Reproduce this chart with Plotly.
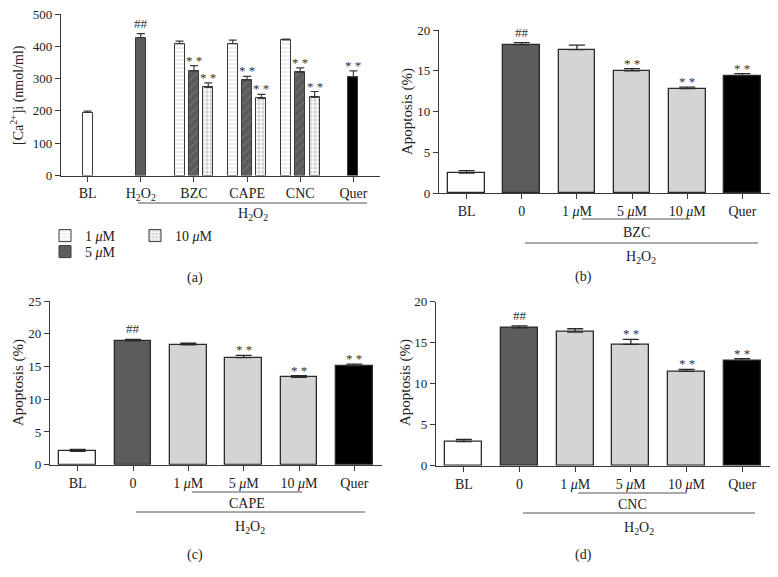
import plotly.graph_objects as go

W, H = 778, 577

# ---------------- data ----------------
# Panel (a): [Ca2+]i
a_cats = ['BL', 'H2O2', 'BZC', 'CAPE', 'CNC', 'Quer']
a_ticktext = ['BL', 'H<sub>2</sub>O<sub>2</sub>', 'BZC', 'CAPE', 'CNC', 'Quer']
a_groups = ['BZC', 'CAPE', 'CNC']
a_bl = [195]
a_bl_err = [4]
a_h2o2 = [427]
a_h2o2_err = [12]
a_1uM = [408, 408, 420]
a_1uM_err = [8, 11, 2]
a_5uM = [324, 295, 319]
a_5uM_err = [16, 12, 14]
a_10uM = [273, 239, 242]
a_10uM_err = [14, 12, 18]
a_quer = [305]
a_quer_err = [19]

# Panels (b)-(d): apoptosis
ap_cats = ['BL', '0', '1 uM', '5 uM', '10 uM', 'Quer']
ap_ticktext = ['BL', '0', '1 <i>μ</i>M', '5 <i>μ</i>M', '10 <i>μ</i>M', 'Quer']
ap_sig = ['', '##', '', '**', '**', '**']

b_vals = [2.45, 18.2, 17.6, 15.0, 12.8, 14.4]
b_err = [0.3, 0.25, 0.55, 0.25, 0.2, 0.25]
c_vals = [2.05, 18.9, 18.3, 16.35, 13.35, 15.1]
c_err = [0.3, 0.25, 0.25, 0.35, 0.25, 0.25]
d_vals = [2.95, 16.8, 16.3, 14.8, 11.5, 12.85]
d_err = [0.25, 0.25, 0.4, 0.6, 0.25, 0.2]

# ---------------- style ----------------
FONT = 'Liberation Serif'
TXT = '#222222'
AX = '#3a3a3a'
ap_colors = ['white', '#5c5c5c', '#d4d4d4', '#d4d4d4', '#d4d4d4', 'black']
PAGE_OFF = 8  # default body margin of the html page


def px(x):
    return (x - PAGE_OFF) / W


def py(y):
    return 1 - (y - PAGE_OFF) / H


fig = go.Figure()

# ---------- panel (a) ----------
bw_a = 0.19
step_a = 0.27


def err(arr):
    return dict(type='data', array=arr, arrayminus=[0] * len(arr), symmetric=False,
                color=AX, thickness=1.2, width=4)


line_a = dict(color=AX, width=1)
fig.add_trace(go.Bar(x=['BL'], y=a_bl, width=bw_a, offset=-bw_a / 2,
                     marker=dict(color='white', line=line_a), error_y=err(a_bl_err),
                     showlegend=False, xaxis='x', yaxis='y'))
fig.add_trace(go.Bar(x=['H2O2'], y=a_h2o2, width=bw_a, offset=-bw_a / 2,
                     marker=dict(color='#5c5c5c', line=line_a), error_y=err(a_h2o2_err),
                     showlegend=False, xaxis='x', yaxis='y'))
fig.add_trace(go.Bar(x=a_groups, y=a_1uM, width=bw_a, offset=-step_a - bw_a / 2,
                     name='1 <i>μ</i>M', legend='legend',
                     marker=dict(color='white', line=line_a,
                                 pattern=dict(shape='-', fgcolor='#c4c4c4', bgcolor='white',
                                              size=4, solidity=0.3, fillmode='overlay')),
                     error_y=err(a_1uM_err), xaxis='x', yaxis='y'))
fig.add_trace(go.Bar(x=a_groups, y=a_5uM, width=bw_a, offset=-bw_a / 2,
                     name='5 <i>μ</i>M', legend='legend3',
                     marker=dict(color='#5a5a5a', line=line_a,
                                 pattern=dict(shape='/', fgcolor='#8c8c8c', bgcolor='#5a5a5a',
                                              size=6, solidity=0.2, fillmode='overlay')),
                     error_y=err(a_5uM_err), xaxis='x', yaxis='y'))
fig.add_trace(go.Bar(x=a_groups, y=a_10uM, width=bw_a, offset=step_a - bw_a / 2,
                     name='10 <i>μ</i>M', legend='legend2',
                     marker=dict(color='white', line=line_a,
                                 pattern=dict(shape='.', fgcolor='#a6a6a6', bgcolor='white',
                                              size=4, solidity=0.55, fillmode='overlay')),
                     error_y=err(a_10uM_err), xaxis='x', yaxis='y'))
fig.add_trace(go.Bar(x=['Quer'], y=a_quer, width=bw_a, offset=-bw_a / 2,
                     marker=dict(color='black', line=line_a), error_y=err(a_quer_err),
                     showlegend=False, xaxis='x', yaxis='y'))

annos = []
sig_font = dict(family=FONT, size=13, color='#333333')
annos.append(dict(x=a_cats.index('H2O2'), y=a_h2o2[0] + a_h2o2_err[0], xref='x', yref='y',
                  text='##', showarrow=False, yanchor='bottom', yshift=1, font=sig_font))
for i, g in enumerate(a_groups):
    gi = a_cats.index(g)
    annos.append(dict(x=gi, y=a_5uM[i] + a_5uM_err[i], xref='x', yref='y', text='* *',
                      showarrow=False, yanchor='bottom', yshift=-4, font=sig_font))
    annos.append(dict(x=gi + step_a, y=a_10uM[i] + a_10uM_err[i], xref='x', yref='y',
                      text='* *', showarrow=False, yanchor='bottom', yshift=-4, font=sig_font))
annos.append(dict(x=a_cats.index('Quer'), y=a_quer[0] + a_quer_err[0], xref='x', yref='y',
                  text='* *', showarrow=False, yanchor='bottom', yshift=-4, font=sig_font))

# ---------- panels (b)-(d) ----------
panels = [('x2', 'y2', b_vals, b_err), ('x3', 'y3', c_vals, c_err), ('x4', 'y4', d_vals, d_err)]
for xa, ya, vals, errs in panels:
    fig.add_trace(go.Bar(x=ap_cats, y=vals, width=0.665,
                         marker=dict(color=ap_colors, line=dict(color='#2a2a2a', width=1.3)),
                         error_y=dict(type='data', array=errs, arrayminus=[0] * len(errs),
                                      symmetric=False, color='#2a2a2a', thickness=1.3, width=8),
                         showlegend=False, xaxis=xa, yaxis=ya))
    for i, (v, e, s) in enumerate(zip(vals, errs, ap_sig)):
        if s:
            annos.append(dict(x=i, y=v + e, xref=xa, yref=ya,
                              text=s if s == '##' else '* *', showarrow=False,
                              yanchor='bottom', yshift=1 if s == '##' else -4, font=sig_font))

# ---------- axes ----------
xtickfont = dict(family=FONT, size=14, color=TXT)
ytickfont = dict(family=FONT, size=13, color=TXT)


def xaxis(dom, ticktext, cats, yanchor):
    return dict(domain=dom, anchor=yanchor, type='category', categoryorder='array',
                categoryarray=cats, tickvals=cats, ticktext=ticktext, range=[-0.5, 5.5],
                showline=True, linecolor=AX, linewidth=1.2, ticks='outside', ticklen=5,
                tickcolor=AX, tickwidth=1.2, tickfont=xtickfont, showgrid=False,
                zeroline=False, automargin=False)


def yaxis(dom, rng, dtick, xanchor):
    return dict(domain=dom, anchor=xanchor, range=rng, dtick=dtick, showline=True,
                linecolor=AX, linewidth=1.2, ticks='outside', ticklen=5, tickcolor=AX,
                tickwidth=1.2, tickfont=ytickfont, showgrid=False, zeroline=False,
                automargin=False, ticklabeloverflow='allow')


fig.update_layout(
    xaxis=xaxis([px(61), px(380)], a_ticktext, a_cats, 'y'),
    yaxis=yaxis([py(175.5), py(14)], [0, 500], 100, 'x'),
    xaxis2=xaxis([px(439), px(770)], ap_ticktext, ap_cats, 'y2'),
    yaxis2=yaxis([py(193), py(30)], [0, 20], 5, 'x2'),
    xaxis3=xaxis([px(50), px(382)], ap_ticktext, ap_cats, 'y3'),
    yaxis3=yaxis([py(464.7), py(301)], [0, 25], 5, 'x3'),
    xaxis4=xaxis([px(436), px(770)], ap_ticktext, ap_cats, 'y4'),
    yaxis4=yaxis([py(465.7), py(301.7)], [0, 20], 5, 'x4'),
)

# ---------- decorations ----------
shapes = []


def hline(x0, x1, y):
    shapes.append(dict(type='line', xref='paper', yref='paper', x0=px(x0), x1=px(x1),
                       y0=py(y), y1=py(y), line=dict(color='#555555', width=1.2)))


def label(x, y, text, size=14, angle=0):
    annos.append(dict(x=px(x), y=py(y), xref='paper', yref='paper', text=text,
                      showarrow=False, textangle=angle, xanchor='center', yanchor='middle',
                      font=dict(family=FONT, size=size, color=TXT)))


H2O2 = 'H<sub>2</sub>O<sub>2</sub>'
# (a)
hline(138, 367, 203)
label(253, 214, H2O2)
label(195, 278, '(a)')
label(17, 95, '[Ca<sup>2+</sup>]i (nmol/ml)', angle=-90)
# (b)
hline(582, 690, 219)
label(636, 232, 'BZC')
hline(525, 758, 243)
label(641, 257, H2O2)
label(583, 277, '(b)')
label(407, 112, 'Apoptosis (%)', size=15, angle=-90)
# (c)
hline(192, 302, 492)
label(247, 503, 'CAPE')
hline(136, 365, 512)
label(250, 527, H2O2)
label(195, 555, '(c)')
label(18, 383, 'Apoptosis (%)', size=15, angle=-90)
# (d)
hline(578, 687, 493)
label(632, 504, 'CNC')
hline(523, 755, 513)
label(639, 528, H2O2)
label(583, 555, '(d)')
label(405, 383, 'Apoptosis (%)', size=15, angle=-90)

legfont = dict(family=FONT, size=14, color=TXT)
leg_common = dict(xanchor='left', yanchor='middle', font=legfont, bgcolor='rgba(0,0,0,0)',
                  borderwidth=0)
fig.update_layout(
    width=W, height=H, margin=dict(l=0, r=0, t=0, b=0, autoexpand=False),
    paper_bgcolor='white', plot_bgcolor='white',
    barmode='overlay', bargap=0,
    shapes=shapes, annotations=annos,
    legend=dict(x=px(45), y=py(236), **leg_common),
    legend3=dict(x=px(45), y=py(252), **leg_common),
    legend2=dict(x=px(135), y=py(236), **leg_common),
    font=dict(family=FONT, color=TXT),
)

fig.write_html('out.html')
